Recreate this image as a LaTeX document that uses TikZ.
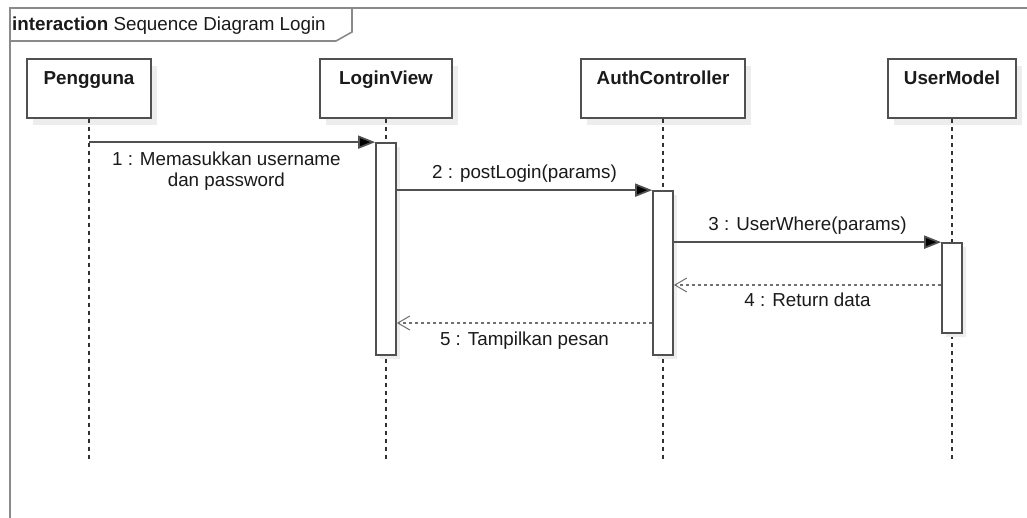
\documentclass[tikz,border=0pt]{standalone}
\usepackage{fontspec}
\setmainfont{Liberation Sans}
\usetikzlibrary{arrows.meta,shadows}

\definecolor{framegray}{HTML}{8A8A8A}
\definecolor{linegray}{HTML}{505050}
\definecolor{lifegray}{HTML}{333333}
\definecolor{returngray}{HTML}{707070}
\definecolor{shadowgray}{HTML}{EDEDED}
\definecolor{txt}{HTML}{1A1A1A}

\begin{document}
\begin{tikzpicture}[x=1pt,y=-1pt,
  every node/.style={font=\fontsize{18.8}{21}\selectfont, text=txt},
  boxshadow/.style={drop shadow={shadow xshift=6pt, shadow yshift=-7pt, fill=shadowgray, opacity=1}},
  participant/.style={draw=linegray, line width=1.7pt, fill=white, boxshadow,
    minimum height=59pt, inner xsep=0pt, inner ysep=6pt,
    text height=20pt, text depth=27pt, font=\fontsize{18.8}{21}\selectfont\bfseries},
  activation/.style={draw=linegray, line width=1.7pt, fill=white,
    drop shadow={shadow xshift=4pt, shadow yshift=-4pt, fill=shadowgray, opacity=1},
    minimum width=20pt, inner sep=0pt},
  lifeline/.style={draw=lifegray, line width=1.2pt, dash pattern=on 4pt off 4pt},
  msg/.style={draw=linegray, line width=1.7pt, -{Triangle[length=17pt,width=13pt,fill=black]}},
  reply/.style={draw=returngray, line width=1.6pt, dash pattern=on 3pt off 3pt,
    -{Straight Barb[length=12pt,width=14pt,line width=1pt]}},
  lbl/.style={inner sep=0pt, align=center}
]
\useasboundingbox (0,0) rectangle (1027,518);
\clip (0,0) rectangle (1027,518);
\fill[white] (0,0) rectangle (1027,518);

% interaction frame and its name tab
\draw[framegray, line width=2pt] (1040,8) -- (10,8) -- (10,530);
\draw[framegray, line width=1.6pt] (10,41) -- (336,41) -- (352,32) -- (352,8);
\node[anchor=base west, inner sep=0pt] (title) at (12,31) {\textbf{interaction} Sequence Diagram Login};

% participants
\node[participant, minimum width=124pt] (pg) at (89,88.5) {Pengguna};
\node[participant, minimum width=132pt] (lv) at (386,88.5) {LoginView};
\node[participant, minimum width=164pt] (ac) at (663,88.5) {AuthController};
\node[participant, minimum width=128pt] (um) at (952,88.5) {UserModel};

% lifeline ends
\coordinate (pgend) at (pg.south |- 0,462);
\coordinate (lvend) at (lv.south |- 0,462);
\coordinate (acend) at (ac.south |- 0,462);
\coordinate (umend) at (um.south |- 0,462);

\draw[lifeline] (pg.south) -- (pgend);
\draw[lifeline] (lv.south) -- (lvend);
\draw[lifeline] (ac.south) -- (acend);
\draw[lifeline] (um.south) -- (umend);

% activation bars
\node[activation, minimum height=212pt] (lvbar) at (lv.south |- 0,249) {};
\node[activation, minimum height=164pt] (acbar) at (ac.south |- 0,273) {};
\node[activation, minimum height=90pt] (umbar) at (um.south |- 0,288) {};

% messages
\draw[msg] (pg.south |- lvbar.north) -- (lvbar.north west)
  node[lbl, pos=0.48, below=9pt] {1 : Memasukkan username\\dan password};
\draw[msg] (lvbar.east |- acbar.north) -- (acbar.north west)
  node[lbl, midway, above=7pt] {2 : postLogin(params)};
\draw[msg] (acbar.east |- umbar.north) -- (umbar.north west)
  node[lbl, midway, above=7pt] {3 : UserWhere(params)};

% replies
\coordinate (r4s) at (umbar.west |- 0,285);
\coordinate (r4e) at (acbar.east |- 0,285);
\draw[reply] (r4s) -- (r4e) node[lbl, midway, below=7pt] {4 : Return data};
\coordinate (r5s) at (acbar.west |- 0,323);
\coordinate (r5e) at (lvbar.east |- 0,323);
\draw[reply] (r5s) -- (r5e) node[lbl, midway, below=8pt] {5 : Tampilkan pesan};
\end{tikzpicture}
\end{document}
